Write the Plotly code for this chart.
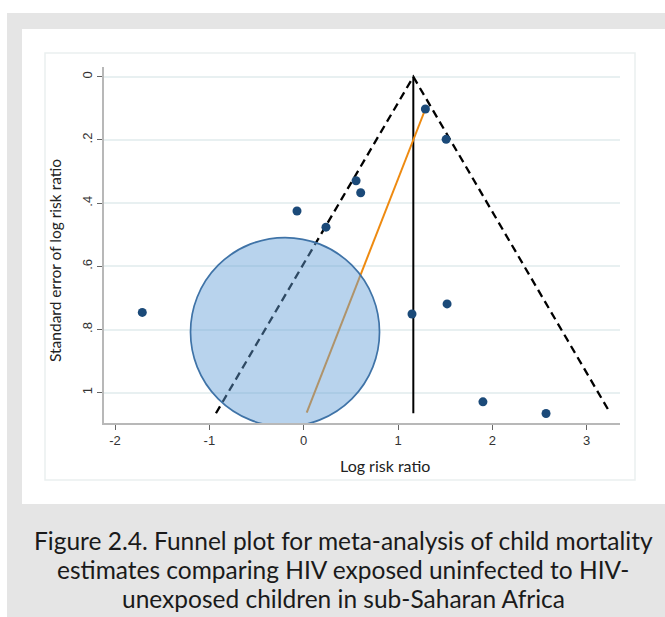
import plotly.graph_objects as go

# Study estimates: log risk ratio and its standard error
log_rr = [1.29, 1.51, 0.555, 0.604, -0.071, 0.236, -1.711, 1.148, 1.52, 1.90, 2.569]
se_log_rr = [0.102, 0.198, 0.329, 0.367, 0.425, 0.476, 0.746, 0.751, 0.719, 1.029, 1.066]

# Pseudo 95% confidence limits around the pooled estimate
funnel_x = [-0.93, 1.162, 3.25]
funnel_y = [1.065, 0.0, 1.065]

# Pooled estimate (vertical reference line)
pooled_x = [1.162, 1.162]
pooled_y = [0.0, 1.065]

# Small-study regression line
reg_x = [1.29, 0.032]
reg_y = [0.102, 1.063]

# Highlighted study
bubble_x = [-0.198]
bubble_y = [0.808]

y_ticks = [0, 0.2, 0.4, 0.6, 0.8, 1]
y_tick_text = ["0", ".2", ".4", ".6", ".8", "1"]
x_ticks = [-2, -1, 0, 1, 2, 3]
x_tick_text = ["-2", "-1", "0", "1", "2", "3"]

caption_lines = [
    "Figure 2.4. Funnel plot for meta-analysis of child mortality",
    "estimates comparing HIV exposed uninfected to HIV-",
    "unexposed children in sub-Saharan Africa",
]

W, H = 665, 617
L, R, T, B = 104, 620, 67, 423  # plot area in pixels


def px(xp):
    return (xp - L) / (R - L)


def py(yp):
    return (B - yp) / (B - T)


fig = go.Figure()

fig.add_trace(go.Scatter(
    x=funnel_x, y=funnel_y, mode="lines",
    line=dict(color="black", width=2.3, dash="8px,5px"),
    hoverinfo="skip", showlegend=False,
))
fig.add_trace(go.Scatter(
    x=pooled_x, y=pooled_y, mode="lines",
    line=dict(color="black", width=2),
    hoverinfo="skip", showlegend=False,
))
fig.add_trace(go.Scatter(
    x=reg_x, y=reg_y, mode="lines",
    line=dict(color="#ee8a10", width=2),
    hoverinfo="skip", showlegend=False,
))
fig.add_trace(go.Scatter(
    x=log_rr, y=se_log_rr, mode="markers",
    marker=dict(color="#1b4a79", size=9, line=dict(width=0)),
    showlegend=False,
))
fig.add_trace(go.Scatter(
    x=bubble_x, y=bubble_y, mode="markers",
    marker=dict(color="rgba(100,160,215,0.46)", size=189,
                line=dict(color="#3f73a7", width=1.7)),
    showlegend=False,
))

shapes = [
    # grey page background
    dict(type="rect", xref="paper", yref="paper", layer="below",
         x0=px(7), x1=px(670), y0=py(13), y1=py(620),
         fillcolor="#e5e5e5", line=dict(width=0)),
    # white graph region
    dict(type="rect", xref="paper", yref="paper", layer="below",
         x0=px(22), x1=px(670), y0=py(29), y1=py(504),
         fillcolor="white", line=dict(width=0)),
    # faint inner frame
    dict(type="rect", xref="paper", yref="paper", layer="below",
         x0=px(45), x1=px(635), y0=py(53), y1=py(480),
         fillcolor="rgba(0,0,0,0)", line=dict(color="#eaf0f0", width=1.5)),
]

annotations = [
    dict(text="Log risk ratio", xref="paper", yref="paper",
         x=px(385), y=py(465), showarrow=False,
         font=dict(family="Lato", size=16, color="#222222"),
         xanchor="center", yanchor="middle"),
    dict(text="Standard error of log risk ratio", xref="paper", yref="paper",
         x=px(55), y=py(261), showarrow=False, textangle=-90,
         font=dict(family="Lato", size=15.5, color="#222222"),
         xanchor="center", yanchor="middle"),
]
for i, line in enumerate(caption_lines):
    annotations.append(dict(
        text=line, xref="paper", yref="paper",
        x=px(343), y=py([540, 569, 598][i]), showarrow=False,
        font=dict(family="Lato", size=24.5, color="#1a1a1a"),
        xanchor="center", yanchor="middle",
    ))

fig.update_layout(
    width=W, height=H,
    margin=dict(l=L, r=W - R, t=T, b=H - B, pad=0),
    paper_bgcolor="white",
    plot_bgcolor="rgba(0,0,0,0)",
    shapes=shapes,
    annotations=annotations,
    showlegend=False,
    xaxis=dict(
        range=[-2.117, 3.353], tickvals=x_ticks, ticktext=x_tick_text,
        showgrid=False, zeroline=False,
        showline=True, linecolor="#b8b8b8", linewidth=1.5,
        ticks="outside", ticklen=5, tickcolor="#666666", tickwidth=1,
        tickfont=dict(family="Liberation Sans", size=13, color="#333333"),
    ),
    yaxis=dict(
        range=[1.096, -0.031], tickvals=y_ticks, ticktext=y_tick_text,
        tickangle=-90,
        showgrid=True, gridcolor="#e8f0f1", gridwidth=1.5, zeroline=False,
        showline=True, linecolor="#b8b8b8", linewidth=1.5,
        ticks="outside", ticklen=5, tickcolor="#666666", tickwidth=1,
        tickfont=dict(family="Liberation Sans", size=13, color="#333333"),
    ),
)

fig.write_html("out.html")
